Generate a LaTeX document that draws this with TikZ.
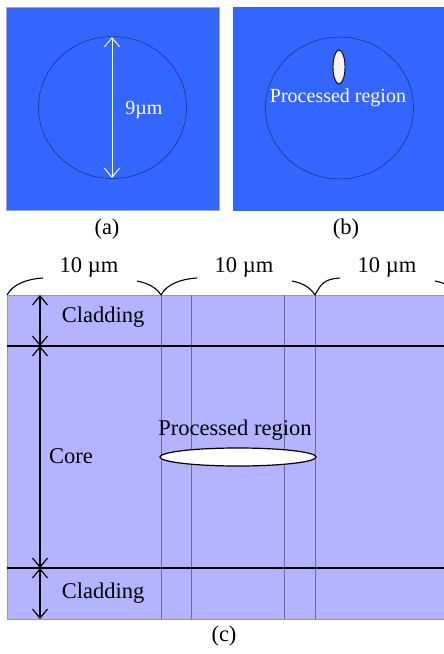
\documentclass[tikz,border=0pt]{standalone}
\usepackage{fontspec}
\setmainfont{Liberation Serif}
\usetikzlibrary{arrows.meta, positioning}

\definecolor{fiberblue}{HTML}{3366FF}
\definecolor{rimnavy}{HTML}{1F2F70}
\definecolor{slabfill}{HTML}{B3B3FF}
\definecolor{gridline}{HTML}{6A6A9C}

\begin{document}
\begin{tikzpicture}[x=1pt, y=-1pt,
    dimarrow/.style={{Straight Barb[length=9pt,width=15pt]}-{Straight Barb[length=9pt,width=15pt]}},
    bigtext/.style={font=\fontsize{22.5}{26}\selectfont},
    midtext/.style={font=\fontsize{20}{24}\selectfont},
    brace/.style={black, line width=1.1pt}]
    \useasboundingbox (0,0) rectangle (444,654);

    % (a) fibre cross-section with the core diameter
    \fill[fiberblue, draw=gray!70, line width=0.4pt] (6,7) rectangle (219,210);
    \draw[rimnavy, line width=0.5pt] (112.5,107.5) ellipse [x radius=74, y radius=71];
    \coordinate (atop) at (112,37);
    \coordinate (abot) at (112,178);
    \draw[white, line width=1pt, dimarrow] (atop) -- (abot);
    \node[white, midtext] (adiam) at (144,110) {9µm};

    % (b) same cross-section after processing
    \fill[fiberblue] (233,7) rectangle (444,211);
    \draw[rimnavy, line width=0.5pt] (339.5,108) ellipse [x radius=74, y radius=71];
    \draw[black, fill=gray!8, line width=0.9pt] (339,67) ellipse [x radius=6, y radius=17];
    \node[white, midtext] (bproc) at (338,98) {Processed region};

    \node[bigtext] (capa) at (107,229) {(a)};
    \node[bigtext] (capb) at (346,229) {(b)};

    % (c) side view: cladding / core / cladding
    \fill[slabfill, draw=gray!80, line width=0.4pt] (7,295) rectangle (444,619);
    \foreach \xv in {161,191,284,315}
        \draw[gridline, line width=0.6pt] (\xv,295) -- (\xv,619);
    \draw[black, line width=1.2pt] (7,346) -- (444,346);
    \draw[black, line width=1.2pt] (7,568) -- (444,568);

    \coordinate (ctop) at (40,295);
    \coordinate (cupper) at (40,346);
    \coordinate (clower) at (40,568);
    \coordinate (cbot) at (40,619);
    \draw[black, line width=1.2pt, dimarrow] (ctop) -- (cupper);
    \draw[black, line width=1.2pt, dimarrow] (cupper) -- (clower);
    \draw[black, line width=1.2pt, dimarrow] (clower) -- (cbot);

    \node[bigtext] (cladtop) at (103,317) {Cladding};
    \node[bigtext] (core) at (71,456) {Core};
    \node[bigtext] (cladbot) at (103,593) {Cladding};

    \draw[black, fill=white, line width=1.2pt] (238,457) ellipse [x radius=78, y radius=9];
    \node[bigtext] (cproc) at (235,430) {Processed region};

    % braces marking the 10 um periods
    \foreach \xa/\xb/\xc/\xd in {7/43/137/161, 161/197/292/315, 315/340/435/459}
    {
        \draw[brace] (\xa,295) .. controls (\xa+6,284) and (\xb-16,279) .. (\xb,278);
        \draw[brace] (\xc,281) .. controls (\xc+10,283) and (\xd-5,287) .. (\xd,295);
    }
    \node[bigtext] (pa) at (89,267) {10 µm};
    \node[bigtext] (pb) at (244,267) {10 µm};
    \node[bigtext] (pc) at (387,267) {10 µm};

    \node[bigtext] (capc) at (224,636) {(c)};
\end{tikzpicture}
\end{document}
